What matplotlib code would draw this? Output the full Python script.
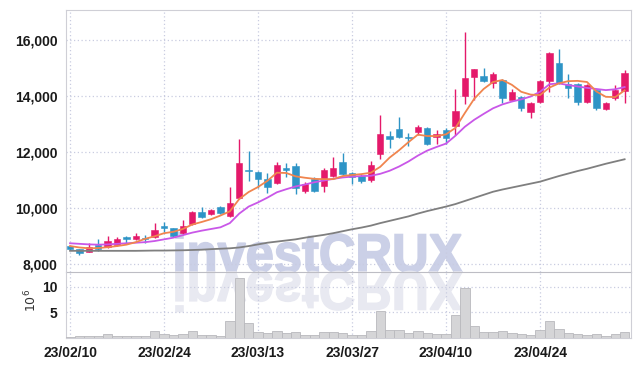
import numpy as np
import matplotlib
matplotlib.use("Agg")
import matplotlib.pyplot as plt
from matplotlib.textpath import TextPath
from matplotlib.patches import PathPatch
from matplotlib.font_manager import FontProperties
from matplotlib.transforms import Affine2D, IdentityTransform

# daily candles, 23/02/10 .. 23/05
opens = [8640, 8530, 8430, 8680, 8600, 8690, 8950, 8900, 8930, 8960,
         9350, 9280, 9100, 9430, 9860, 9790, 10040, 9710, 10360, 11350,
         11290, 11040, 10900, 11430, 11500, 10610, 11040, 10790, 11140, 11640,
         11250, 11140, 11000, 11930, 12570, 12820, 12540, 12710, 12860, 12540,
         12790, 12930, 14000, 14680, 14710, 14460, 14570, 13860, 13960, 13430,
         13790, 14540, 15180, 14430, 14430, 13790, 14210, 13540, 13930, 14180]
closes = [8540, 8400, 8600, 8520, 8820, 8890, 8910, 9000, 8900, 9210,
          9300, 9000, 9350, 9860, 9680, 9930, 9820, 10180, 11610, 11320,
          11040, 10750, 11540, 11360, 10710, 10860, 10610, 11360, 11430, 11210,
          11110, 10960, 11540, 12640, 12460, 12540, 12500, 12890, 12290, 12640,
          12500, 13460, 14640, 14960, 14540, 14790, 13930, 14140, 13570, 13750,
          14540, 15540, 14460, 14290, 13790, 14390, 13570, 13750, 14210, 14820]
highs = [8660, 8550, 8750, 8890, 9000, 8960, 9000, 9110, 9040, 9460,
         9500, 9300, 9570, 9900, 10040, 9960, 10060, 10750, 12460, 12040,
         11330, 11250, 11640, 11610, 11610, 10930, 11110, 11430, 11820, 11960,
         11290, 11200, 11680, 13320, 12750, 13250, 12680, 12960, 12890, 12800,
         12860, 14250, 16290, 14980, 15000, 14860, 14600, 14250, 14000, 13800,
         14570, 15570, 15680, 14790, 14460, 14430, 14250, 13790, 14390, 14930]
lows = [8500, 8330, 8420, 8480, 8580, 8660, 8750, 8870, 8750, 8940,
        9140, 8960, 9080, 9400, 9660, 9760, 9800, 9680, 10330, 10960,
        10710, 10540, 10860, 11110, 10500, 10540, 10570, 10570, 11100, 11180,
        10860, 10900, 10930, 11750, 12140, 12500, 12210, 12600, 12250, 12290,
        12280, 12610, 13710, 13860, 14500, 14290, 13750, 13860, 13460, 13210,
        13750, 14140, 14430, 13930, 13680, 13750, 13500, 13500, 13860, 13750]

ma_short = [8640, 8590, 8560, 8570, 8600, 8640, 8690, 8780, 8900, 8990,
            9100, 9150, 9250, 9410, 9500, 9600, 9730, 9880, 10320, 10570,
            10750, 10970, 11260, 11250, 11130, 11080, 11040, 11030, 11030, 11140,
            11180, 11210, 11260, 11470, 11800, 12060, 12350, 12620, 12570, 12570,
            12630, 12860, 13390, 13900, 14250, 14500, 14570, 14400, 14150, 14050,
            14030, 14300, 14450, 14530, 14540, 14500, 14160, 13970, 13960, 14200]
ma_mid = [8740, 8720, 8700, 8690, 8700, 8720, 8740, 8760, 8780, 8820,
          8880, 8940, 9030, 9120, 9190, 9250, 9310, 9460, 9800, 10050,
          10200, 10370, 10560, 10670, 10770, 10840, 10920, 10980, 11040, 11090,
          11120, 11140, 11150, 11220, 11330, 11480, 11660, 11870, 12050, 12180,
          12300, 12580, 12900, 13150, 13360, 13560, 13700, 13800, 13880, 13980,
          14150, 14420, 14450, 14390, 14340, 14290, 14250, 14210, 14240, 14320]
ma_long = [8470, 8470, 8470, 8470, 8470, 8470, 8470, 8470, 8475, 8480,
           8480, 8485, 8490, 8500, 8510, 8530, 8545, 8560, 8590, 8640,
           8700, 8760, 8800, 8840, 8880, 8940, 8990, 9040, 9100, 9170,
           9240, 9300, 9370, 9460, 9540, 9620, 9700, 9800, 9890, 9970,
           10050, 10140, 10250, 10360, 10470, 10580, 10660, 10730, 10800, 10870,
           10940, 11040, 11140, 11230, 11320, 11400, 11490, 11580, 11660, 11740]

volume = [0.2, 0.3, 0.3, 0.3, 0.8, 0.3, 0.3, 0.3, 0.3, 1.3,
          0.8, 0.6, 0.8, 1.3, 0.6, 0.5, 0.3, 3.3, 11.7, 2.9,
          1.2, 0.9, 1.3, 1.0, 1.2, 0.6, 0.6, 1.2, 1.2, 0.9,
          0.5, 0.5, 1.3, 5.2, 1.6, 1.6, 0.9, 1.3, 0.9, 0.7,
          0.7, 4.5, 9.7, 2.4, 1.2, 1.2, 1.3, 0.9, 0.7, 0.5,
          1.6, 3.3, 1.7, 0.9, 0.7, 0.5, 0.7, 0.3, 0.7, 1.2]

tick_pos = [0, 10, 20, 30, 40, 50]
tick_labels = ["23/02/10", "23/02/24", "23/03/13", "23/03/27", "23/04/10", "23/04/24"]

RED = "#e4196a"
BLUE = "#2e94c6"
GRID = "#c9cce0"
SPINE = "#cfcfd6"
narrow = ["Liberation Sans", "DejaVu Sans"]

W, H = 639, 366
fig = plt.figure(figsize=(W / 100, H / 100), dpi=100)
fig.patch.set_facecolor("white")

def px_axes(l, t, r, b):
    return fig.add_axes([l / W, 1 - b / H, (r - l) / W, (b - t) / H])

ax = px_axes(66, 10, 631, 272)
axv = px_axes(66, 272, 631, 338)

x = np.arange(len(opens))
o = np.array(opens); c = np.array(closes)
up = c >= o
cols = np.where(up, RED, BLUE)

ax.vlines(x, lows, highs, colors=cols, linewidth=1.0, zorder=3)
body = np.maximum(np.abs(c - o), 35)
ax.bar(x, body, bottom=np.minimum(o, c), width=0.68, color=cols,
       edgecolor=cols, linewidth=0.4, zorder=4)
ax.plot(x, ma_long, color="#7f7f7f", lw=1.3, zorder=5)
ax.plot(x, ma_mid, color="#c957e8", lw=1.3, zorder=5)
ax.plot(x, ma_short, color="#f0854e", lw=1.3, zorder=5)

ax.set_xlim(-0.43, 59.68)
ax.set_ylim(7714, 17071)
ax.set_yticks([8000, 10000, 12000, 14000, 16000])
ax.set_yticklabels(["8,000", "10,000", "12,000", "14,000", "16,000"])

axv.bar(x, volume, width=1.0, color="#d5d5d7", edgecolor="#b9b9bd", linewidth=0.6, zorder=3)
axv.set_xlim(-0.43, 59.68)
axv.set_ylim(0, 12.85)
axv.set_yticks([5, 10])
axv.set_xticks(tick_pos)
axv.set_xticklabels(tick_labels)
ax.set_xticks(tick_pos)
ax.set_xticklabels([])

for a in (ax, axv):
    a.set_facecolor("none")
    a.grid(True, color=GRID, linestyle=(0, (1, 2)), linewidth=0.9, zorder=0)
    a.tick_params(length=0, pad=6, labelcolor="#1a1a1a")
    for s in a.spines.values():
        s.set_color(SPINE)
    for lab in a.get_xticklabels() + a.get_yticklabels():
        lab.set_fontfamily(narrow)
        lab.set_fontweight("bold")
        lab.set_fontsize(10)
ax.spines["bottom"].set_color("#bdbdc4")
axv.spines["top"].set_visible(False)

fig.text(31 / W, 1 - 300 / H, r"$10^6$", rotation=90, ha="center", va="center",
         fontsize=9, color="#333333")

# watermark with reflection
tp = TextPath((0, 0), "investCRUX", size=100,
              prop=FontProperties(family=narrow, weight="bold"))
ext = tp.get_extents()
sx = 286 / ext.width
sy = 40 / ext.height
base = H - 272
wm = Affine2D().translate(-ext.x0, 0).scale(sx, sy).translate(176, base)
fig.patches.append(PathPatch(wm.transform_path(tp), facecolor="#cbd0e7",
                             edgecolor="#cbd0e7", linewidth=1.2,
                             transform=IdentityTransform(), zorder=-1))
rf = Affine2D().translate(-ext.x0, 0).scale(sx, -sy).translate(176, base)
fig.patches.append(PathPatch(rf.transform_path(tp), facecolor="#e8e9f1",
                             edgecolor="#e8e9f1", linewidth=1.2,
                             transform=IdentityTransform(), zorder=-1))

fig.savefig("out.png", dpi=100, facecolor="white")
